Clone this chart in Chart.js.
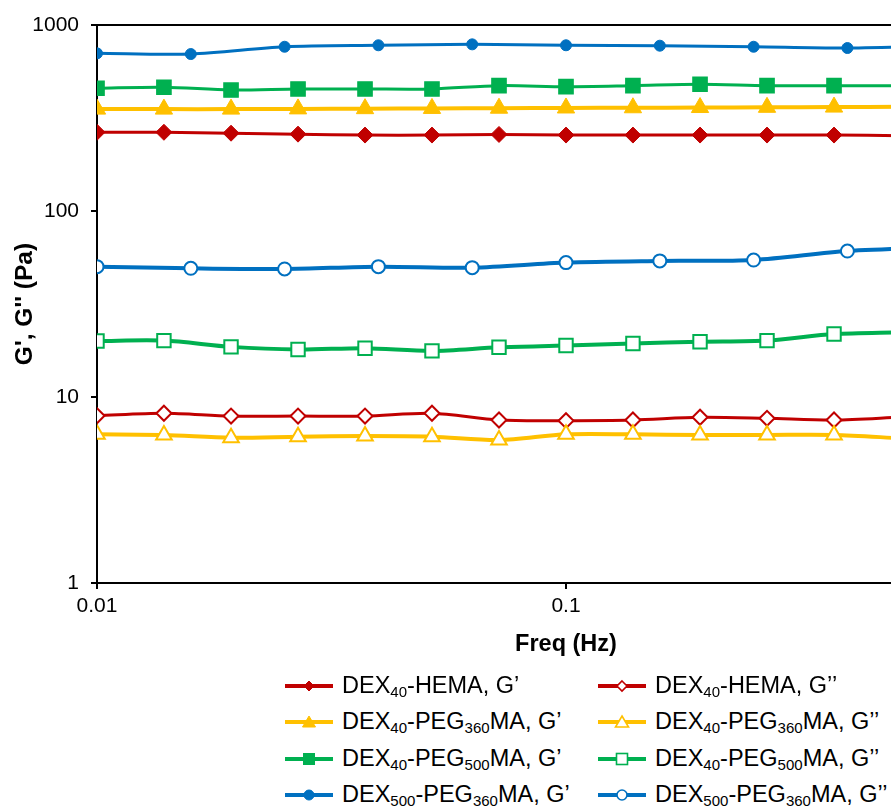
<!DOCTYPE html>
<html>
<head>
<meta charset="utf-8">
<script src="https://cdn.jsdelivr.net/npm/chart.js@4.4.1/dist/chart.umd.min.js"></script>
<style>
html,body{margin:0;padding:0;overflow:hidden;background:#fff;width:891px;height:810px;}
#wrap{position:absolute;left:0;top:0;width:1080px;height:810px;}
#c{position:absolute;left:0;top:0;}
.item{position:absolute;height:30px;display:flex;align-items:center;white-space:nowrap;
  font-family:"Liberation Sans",Arial,sans-serif;font-size:23.5px;color:#000;line-height:1;}
.item svg{flex:none;margin-right:9px;}
.item sub{font-size:0.64em;vertical-align:-0.25em;line-height:0;}
</style>
</head>
<body>
<div id="wrap">
  <canvas id="c" width="1080" height="680"></canvas>
  <div id="legend"></div>
</div>
<script>
// ---- data ----
const freq7 = [0.01, 0.01389, 0.01931, 0.02683, 0.03728, 0.05179, 0.07197, 0.1, 0.1389, 0.1931, 0.2683, 0.3728, 0.5179];
const freq5 = [0.01, 0.01585, 0.02512, 0.03981, 0.06310, 0.1, 0.1585, 0.2512, 0.3981, 0.6310];

const hemaG1   = [265, 265, 262, 259, 256, 256, 258, 256, 256, 256, 256, 256, 254];
const hemaG2   = [7.93, 8.18, 7.90, 7.90, 7.90, 8.18, 7.52, 7.46, 7.52, 7.78, 7.68, 7.52, 7.8];
const peg360G1 = [353, 353, 353, 354, 355, 356, 357, 358, 359, 360, 361, 362, 363];
const peg360G2 = [6.30, 6.25, 6.04, 6.12, 6.17, 6.12, 5.87, 6.30, 6.30, 6.25, 6.25, 6.25, 6.0];
const peg500G1 = [457, 463, 447, 453, 453, 453, 472, 466, 472, 480, 472, 472, 472];
const peg500G2 = [20.0, 20.1, 18.6, 18.0, 18.3, 17.7, 18.5, 18.9, 19.4, 19.8, 20.1, 21.8, 22.3];
const dex500G1 = [704, 698, 764, 778, 787, 778, 774, 764, 752, 775];
const dex500G2 = [50.2, 49.2, 48.8, 50.2, 49.6, 52.8, 53.9, 54.5, 60.9, 63.5];

const xTickValues = [0.01, 0.1, 1];
const xTickLabels = ['0.01', '0.1', '1'];
const yTickValues = [1, 10, 100, 1000];
const yTickLabels = ['1', '10', '100', '1000'];

const seriesNames = [
  'DEX<sub>40</sub>-HEMA, G’',
  'DEX<sub>40</sub>-HEMA, G’’',
  'DEX<sub>40</sub>-PEG<sub>360</sub>MA, G’',
  'DEX<sub>40</sub>-PEG<sub>360</sub>MA, G’’',
  'DEX<sub>40</sub>-PEG<sub>500</sub>MA, G’',
  'DEX<sub>40</sub>-PEG<sub>500</sub>MA, G’’',
  'DEX<sub>500</sub>-PEG<sub>360</sub>MA, G’',
  'DEX<sub>500</sub>-PEG<sub>360</sub>MA, G’’'
];

const RED = '#C00000', YEL = '#FFC000', GRN = '#00B050', BLU = '#0070C0';
const FONT = '"Liberation Sans", Arial, sans-serif';

function pts(xs, ys) { return ys.map((v, i) => ({ x: xs[i], y: v })); }

function mk(i, xs, ys, color, style, filled, radius, lw, bw) {
  return {
    label: seriesNames[i].replace(/<\/?sub>/g, ''),
    data: pts(xs, ys),
    borderColor: color,
    backgroundColor: filled ? color : '#fff',
    borderWidth: lw,
    pointStyle: style,
    pointRadius: radius,
    pointHoverRadius: radius,
    pointBorderWidth: bw,
    pointBorderColor: color,
    pointBackgroundColor: filled ? color : '#fff',
    tension: 0.3,
    fill: false,
    order: 10 - i,
    _filled: filled
  };
}

const datasets = [
  mk(0, freq7, hemaG1,   RED, 'rectRot',  true,  8,   3, 1),
  mk(1, freq7, hemaG2,   RED, 'rectRot',  false, 7.5, 3, 2),
  mk(2, freq7, peg360G1, YEL, 'triangle', true,  10,  4, 1),
  mk(3, freq7, peg360G2, YEL, 'triangle', false, 9,   4, 2),
  mk(4, freq7, peg500G1, GRN, 'rect',     true,  10,  3, 1.5),
  mk(5, freq7, peg500G2, GRN, 'rect',     false, 9.5, 4, 2),
  mk(6, freq5, dex500G1, BLU, 'circle',   true,  5.5, 3, 1),
  mk(7, freq5, dex500G2, BLU, 'circle',   false, 6.5, 4, 2)
];

const framePlugin = {
  id: 'frame',
  beforeDatasetsDraw(chart) {
    const { ctx, chartArea: { left, top, right, bottom } } = chart;
    ctx.save();
    ctx.strokeStyle = '#000';
    ctx.lineWidth = 2;
    ctx.beginPath();
    ctx.moveTo(left, top);
    ctx.lineTo(right, top);
    ctx.lineTo(right, bottom);
    ctx.stroke();
    ctx.restore();
  }
};

const chart = new Chart(document.getElementById('c'), {
  type: 'line',
  data: { datasets },
  plugins: [framePlugin],
  options: {
    responsive: false,
    animation: false,
    events: [],
    layout: { padding: { top: 25, right: 45, bottom: 0, left: 0 } },
    plugins: { legend: { display: false }, tooltip: { enabled: false } },
    scales: {
      x: {
        type: 'logarithmic',
        min: 0.01, max: 1,
        afterBuildTicks: s => { s.ticks = xTickValues.map(v => ({ value: v, major: true })); },
        afterFit: s => { s.height = 97; },
        ticks: {
          callback: (v, i) => xTickLabels[i],
          font: { family: FONT, size: 21 }, color: '#000',
          padding: 5, autoSkip: false, maxRotation: 0
        },
        grid: { drawOnChartArea: false, drawTicks: true, tickLength: 6, color: '#000', lineWidth: 2 },
        border: { display: true, color: '#000', width: 2 },
        title: {
          display: true, text: 'Freq (Hz)',
          font: { family: FONT, size: 23.5, weight: 'bold' }, color: '#000',
          padding: { top: 0, bottom: 21 }
        }
      },
      y: {
        type: 'logarithmic',
        min: 1, max: 1000,
        afterBuildTicks: s => { s.ticks = yTickValues.map(v => ({ value: v, major: true })); },
        afterFit: s => { s.width = 97; },
        ticks: {
          callback: (v, i) => yTickLabels[i],
          font: { family: FONT, size: 21 }, color: '#000',
          padding: 12, autoSkip: false
        },
        grid: { drawOnChartArea: false, drawTicks: true, tickLength: 6, color: '#000', lineWidth: 2 },
        border: { display: true, color: '#000', width: 2 },
        title: {
          display: true, text: "G', G'' (Pa)",
          font: { family: FONT, size: 24.5, weight: 'bold' }, color: '#000',
          padding: { top: 11, bottom: 0 }
        }
      }
    }
  }
});

// ---- HTML legend (two columns, real text with subscripts) ----
function iconSVG(ds) {
  const c = ds.borderColor, f = ds._filled ? c : '#fff', sw = ds._filled ? 1 : 1.6;
  let m = '';
  if (ds.pointStyle === 'rectRot') m = `<polygon points="24,7 29,12 24,17 19,12" fill="${f}" stroke="${c}" stroke-width="${sw}"/>`;
  else if (ds.pointStyle === 'triangle') m = `<polygon points="24,6 30.5,17 17.5,17" fill="${f}" stroke="${c}" stroke-width="${sw}"/>`;
  else if (ds.pointStyle === 'rect') m = `<rect x="18.5" y="6.5" width="11" height="11" fill="${f}" stroke="${c}" stroke-width="${sw}"/>`;
  else m = `<circle cx="24" cy="12" r="5" fill="${f}" stroke="${c}" stroke-width="${sw}"/>`;
  return `<svg width="48" height="24" viewBox="0 0 48 24"><line x1="0" y1="12" x2="48" y2="12" stroke="${c}" stroke-width="4"/>${m}</svg>`;
}
const legendEl = document.getElementById('legend');
const colX = [285, 598];
const rowY = [686, 722, 759, 795];
datasets.forEach((ds, i) => {
  const d = document.createElement('div');
  d.className = 'item';
  d.style.left = colX[i % 2] + 'px';
  d.style.top = (rowY[Math.floor(i / 2)] - 15) + 'px';
  d.innerHTML = iconSVG(ds) + '<span>' + seriesNames[i] + '</span>';
  legendEl.appendChild(d);
});
</script>
</body>
</html>
